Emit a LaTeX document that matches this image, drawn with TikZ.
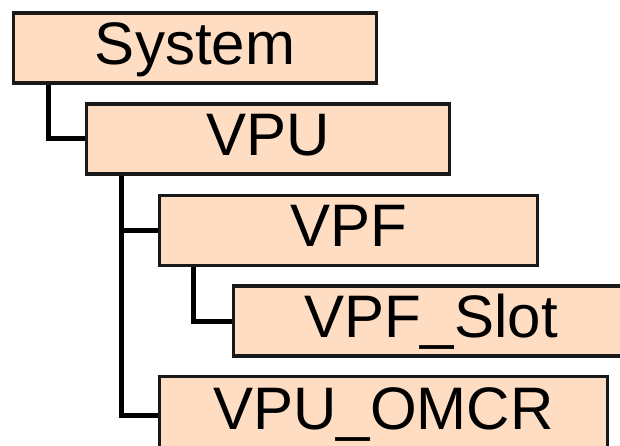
\documentclass[tikz,border=0pt]{standalone}
\usepackage{fontspec}
\setmainfont{Liberation Sans}
\definecolor{peach}{RGB}{254,221,194}
\definecolor{edge}{RGB}{25,25,25}
\begin{document}
\begin{tikzpicture}[x=1bp,y=-1bp,
  box/.style={draw=edge,line width=3.5bp,fill=peach,rectangle,inner xsep=0pt,inner ysep=0pt,
    minimum height=70bp,text height=51.5bp,text depth=18.5bp,font=\fontsize{60bp}{60bp}\selectfont},
  conn/.style={draw=black,line width=5bp}]
\node[box,minimum width=363bp] (sys) at (195,48) {System};
\node[box,minimum width=363bp] (vpu) at (268,139) {VPU};
\node[box,minimum width=378bp] (vpf) at (348.5,230.5) {VPF};
\node[box,minimum width=455bp] (slot) at (461,321) {VPF\_Slot\hspace*{60bp}};
\node[box,minimum width=448bp,minimum height=74bp,text height=52.5bp,text depth=21.5bp] (omcr) at (383.5,413.5) {VPU\_OMCR};
\draw[conn] ([xshift=37bp]sys.south west) |- (vpu.west);
\draw[conn] ([xshift=36.5bp]vpu.south west) |- (vpf.west);
\draw[conn] ([xshift=36.5bp]vpu.south west) |- ([yshift=-1.5bp]omcr.west);
\draw[conn] ([xshift=36bp]vpf.south west) |- (slot.west);
\pgfresetboundingbox
\path[use as bounding box] (0,0) rectangle (620,446);
\end{tikzpicture}
\end{document}
